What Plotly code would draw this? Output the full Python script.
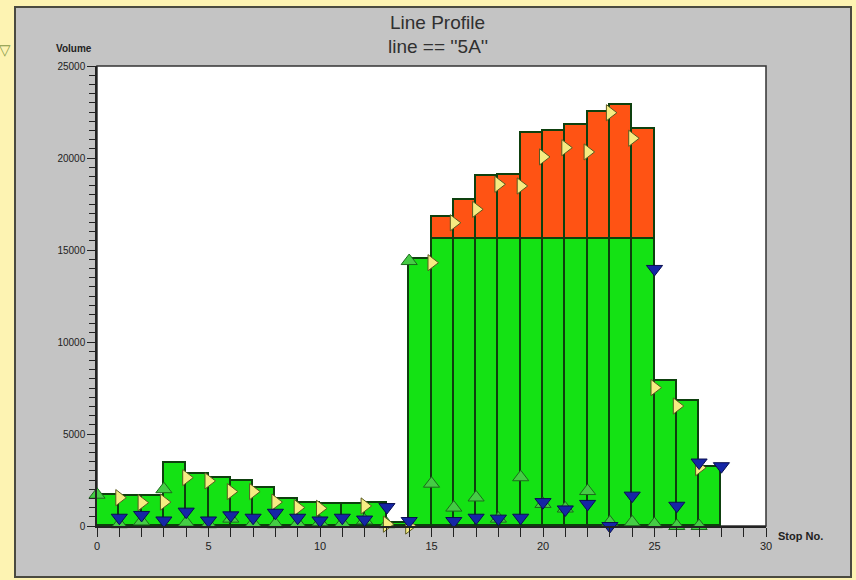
import plotly.graph_objects as go

# ---------------- data ----------------
stops = list(range(29))
# load on the segment from stop i to stop i+1 (stops 0..27)
load = [1700, 1650, 1650, 3450, 2850, 2630, 2450, 2080, 1450, 1270, 1200, 1200, 1250, 150,
        14500, 16800, 17700, 19000, 19100, 21350, 21450, 21800, 22500, 22900, 21550, 7900, 6800, 3200]
capacity = 15600
board = [1700, 100, 250, 2000, 180, 100, 400, 150, 100, 150, 200, 150, 300, 100,
         14400, 2300, 1000, 1550, 400, 2650, 1200, 950, 1900, 200, 200, 100, 0, 0, None]
alight = [None, 450, 600, 300, 780, 300, 580, 450, 720, 450, 300, 450, 350, 1030,
          270, None, 270, 450, 400, 450, 1300, 900, 1200, 0, 1650, 13970, 1100, 3450, 3250]
through = [None, 1540, 1270, 1300, 2630, 2450, 1870, 1870, 1300, 1000, 960, None, 1090, 100,
           0, 14310, 16480, 17210, 18570, 18480, 20060, 20560, 20330, 22460, 21070, 7520, 6520, 3170, None]
x_ticks = [0, 5, 10, 15, 20, 25, 30]
y_ticks = [0, 5000, 10000, 15000, 20000, 25000]

# ---------------- layout constants ----------------
W, H = 856, 580
ML, MR, MT, MB = 97, 90, 66, 54
PW, PH = W - ML - MR, H - MT - MB


def px(xp):
    return (xp - ML) / PW


def py(yp):
    return (H - MB - yp) / PH


bar_x = stops[:len(load)]
green_part = [min(v, capacity) for v in load]
orange_part = [max(v - capacity, 0) for v in load]

OUT = "#0E400E"
fig = go.Figure()
fig.add_trace(go.Bar(x=bar_x, y=green_part, width=1, offset=0,
                     marker=dict(color="#14E214", line=dict(color=OUT, width=1.6)),
                     showlegend=False, hoverinfo="skip"))
fig.add_trace(go.Bar(x=bar_x, y=orange_part, width=1, offset=0,
                     marker=dict(color="#FF5314", line=dict(color=OUT, width=1.6)),
                     showlegend=False, hoverinfo="skip"))

fig.add_trace(go.Scatter(x=stops, y=board, mode="markers", cliponaxis=False,
                         marker=dict(symbol="triangle-up", size=14, color="#45CC45",
                                     line=dict(color="#1C6A1C", width=1)),
                         showlegend=False))
fig.add_trace(go.Scatter(x=stops, y=through, mode="markers", cliponaxis=False,
                         marker=dict(symbol="triangle-right", size=14, color="#F6EC82",
                                     line=dict(color="#5A5A20", width=1)),
                         showlegend=False))
fig.add_trace(go.Scatter(x=stops, y=alight, mode="markers", cliponaxis=False,
                         marker=dict(symbol="triangle-down", size=14, color="#1526A6",
                                     line=dict(color="#0A0F50", width=1)),
                         showlegend=False))

shapes = [
    # grey panel
    dict(type="rect", xref="paper", yref="paper", layer="below",
         x0=px(15), x1=px(851), y0=py(577), y1=py(7),
         fillcolor="#C4C4C4", line=dict(color="#4A4A40", width=2)),
    # white plot area
    dict(type="rect", xref="paper", yref="paper", layer="below",
         x0=0, x1=1, y0=0, y1=1,
         fillcolor="#FFFFFF", line=dict(color="#333333", width=1.5)),
]

font = "Liberation Sans, Arial, sans-serif"


def label(text, x, y, size, xanchor="center", color="#222222"):
    return dict(text=text, x=px(x), y=py(y), xref="paper", yref="paper",
                xanchor=xanchor, yanchor="middle", showarrow=False,
                font=dict(family=font, size=size, color=color))


annotations = [
    label("Line Profile", 438, 22, 19, color="#303030"),
    label("line == ''5A''", 438, 46, 19, color="#303030"),
    label("<b>Volume</b>", 74, 48, 10),
    label("<b>Stop No.</b>", 776, 536, 11, xanchor="left"),
    label("▽", 5, 50, 15, color="#8A9A48"),
]

fig.update_layout(
    width=W, height=H, autosize=False,
    margin=dict(l=ML, r=MR, t=MT, b=MB),
    paper_bgcolor="#FDF3B2", plot_bgcolor="rgba(0,0,0,0)",
    barmode="stack", bargap=0,
    shapes=shapes, annotations=annotations,
    font=dict(family=font, color="#222222"),
    xaxis=dict(range=[0, 30], tickvals=x_ticks, ticks="outside", ticklen=9,
               tickcolor="#222222", tickwidth=1.2, showgrid=False, zeroline=False,
               showline=True, linecolor="#222222", linewidth=1.5,
               tickfont=dict(size=11, color="#222222"),
               minor=dict(dtick=1, ticks="outside", ticklen=9, tickcolor="#222222", showgrid=False)),
    yaxis=dict(range=[0, 25000], tickvals=y_ticks, tickformat="d", ticks="outside", ticklen=8,
               tickcolor="#222222", tickwidth=1.2, showgrid=False, zeroline=False,
               showline=True, linecolor="#222222", linewidth=1.5,
               tickfont=dict(size=10, color="#222222"),
               minor=dict(dtick=500, ticks="outside", ticklen=6, tickcolor="#222222", showgrid=False)),
)

fig.write_html("out.html", config={"displayModeBar": False},
               post_script="document.body.style.margin='0px';")
